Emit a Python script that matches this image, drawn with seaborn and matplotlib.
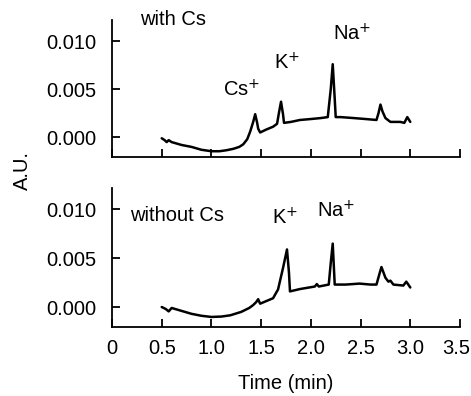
import matplotlib
matplotlib.use("Agg")
import matplotlib.pyplot as plt
import matplotlib.transforms as mtransforms
import seaborn as sns
import pandas as pd

# ---- data ----
time_with = [0.50, 0.53, 0.55, 0.57, 0.60, 0.70, 0.80, 0.90, 1.00, 1.08, 1.15, 1.22, 1.28, 1.32, 1.36, 1.39, 1.42, 1.44, 1.46, 1.47, 1.49, 1.55, 1.62, 1.66, 1.68, 1.70, 1.72, 1.73, 1.80, 1.89, 2.00, 2.10, 2.17, 2.20, 2.22, 2.24, 2.25, 2.30, 2.43, 2.55, 2.66, 2.68, 2.70, 2.72, 2.75, 2.80, 2.90, 2.94, 2.97, 3.00]
au_with   = [-0.0001, -0.0003, -0.0005, -0.0003, -0.0005, -0.0008, -0.0010, -0.0013, -0.00145, -0.00145, -0.00135, -0.0012, -0.0010, -0.00073, -0.0002, 0.0006, 0.0016, 0.0024, 0.0015, 0.0009, 0.0005, 0.0008, 0.0011, 0.0014, 0.0026, 0.0037, 0.0024, 0.0015, 0.0016, 0.0018, 0.0019, 0.0020, 0.0021, 0.0050, 0.0076, 0.0040, 0.0021, 0.0021, 0.0020, 0.0019, 0.0018, 0.0025, 0.0034, 0.0027, 0.0020, 0.0016, 0.0016, 0.0015, 0.0021, 0.0016]

time_without = [0.50, 0.54, 0.57, 0.60, 0.70, 0.80, 0.90, 1.00, 1.10, 1.19, 1.30, 1.38, 1.42, 1.45, 1.47, 1.49, 1.55, 1.62, 1.67, 1.72, 1.76, 1.78, 1.79, 1.89, 2.04, 2.06, 2.08, 2.18, 2.20, 2.22, 2.24, 2.35, 2.49, 2.60, 2.66, 2.69, 2.71, 2.75, 2.78, 2.80, 2.83, 2.93, 2.96, 3.00]
au_without   = [0.0, -0.0002, -0.00045, -0.0001, -0.0004, -0.0007, -0.0009, -0.00102, -0.00098, -0.00085, -0.0005, -0.0001, 0.0002, 0.0005, 0.0008, 0.00034, 0.0006, 0.0009, 0.0018, 0.0040, 0.0059, 0.0035, 0.0016, 0.00184, 0.0021, 0.00235, 0.0021, 0.0023, 0.0045, 0.0065, 0.0023, 0.0023, 0.0024, 0.0023, 0.0023, 0.0034, 0.0041, 0.0030, 0.0026, 0.0027, 0.0023, 0.0022, 0.0026, 0.0020]

x_ticks = [0, 0.5, 1.0, 1.5, 2.0, 2.5, 3.0, 3.5]
x_ticklabels = ["0", "0.5", "1.0", "1.5", "2.0", "2.5", "3.0", "3.5"]
y_ticks = [0.0, 0.005, 0.010]
y_ticklabels = ["0.000", "0.005", "0.010"]

sns.set_theme(style="ticks")
plt.rcParams["font.family"] = ["Liberation Sans", "DejaVu Sans"]
plt.rcParams["text.color"] = "black"
plt.rcParams["xtick.direction"] = "in"
plt.rcParams["ytick.direction"] = "in"
FS = 14.5

fig = plt.figure(figsize=(4.71, 3.96), dpi=100)
left, width = 112 / 471, (460 - 112) / 471
ax1 = fig.add_axes([left, 1 - 157 / 396, width, (157 - 20) / 396])
ax2 = fig.add_axes([left, 1 - 327 / 396, width, (327 - 188) / 396])

df1 = pd.DataFrame({"t": time_with, "au": au_with})
df2 = pd.DataFrame({"t": time_without, "au": au_without})
sns.lineplot(data=df1, x="t", y="au", ax=ax1, color="black", lw=1.8)
sns.lineplot(data=df2, x="t", y="au", ax=ax2, color="black", lw=1.8)

for ax in (ax1, ax2):
    ax.set_xlim(0, 3.5)
    ax.set_ylim(-0.00205, 0.0122)
    ax.set_xticks(x_ticks)
    ax.set_yticks(y_ticks)
    ax.set_yticklabels(y_ticklabels, fontsize=FS)
    ax.set_ylabel("")
    sns.despine(ax=ax)
    for s in ("left", "bottom"):
        ax.spines[s].set_linewidth(1.3)
        ax.spines[s].set_color("black")
    ax.tick_params(axis="both", direction="in", length=6, width=1.3, colors="black", labelsize=FS)
    ax.tick_params(axis="y", pad=11)
    ax.tick_params(axis="x", pad=9)

ax1.set_xticklabels([])
ax1.set_xlabel("")
ax2.set_xticklabels(x_ticklabels, fontsize=FS)
ax2.set_xlabel("Time (min)", fontsize=FS, labelpad=11, color="black")

# nudge the last x tick label slightly left so it stays inside the figure
last = ax2.get_xticklabels()[-1]
last.set_transform(last.get_transform() + mtransforms.ScaledTranslation(-3 / 72, 0, fig.dpi_scale_trans))

ax1.text(0.28, 0.0123, "with Cs", fontsize=FS, va="center", ha="left", clip_on=False)
ax1.text(1.30, 0.0049, "Cs$^{+}$", fontsize=FS, va="center", ha="center")
ax1.text(1.76, 0.0078, "K$^{+}$", fontsize=FS, va="center", ha="center")
ax1.text(2.42, 0.0108, "Na$^{+}$", fontsize=FS, va="center", ha="center")

ax2.text(0.18, 0.0094, "without Cs", fontsize=FS, va="center", ha="left")
ax2.text(1.74, 0.0091, "K$^{+}$", fontsize=FS, va="center", ha="center")
ax2.text(2.25, 0.0099, "Na$^{+}$", fontsize=FS, va="center", ha="center")

fig.text(22 / 471, 1 - 170 / 396, "A.U.", fontsize=FS, rotation=90, va="center", ha="center")

fig.savefig("out.png", dpi=100)
